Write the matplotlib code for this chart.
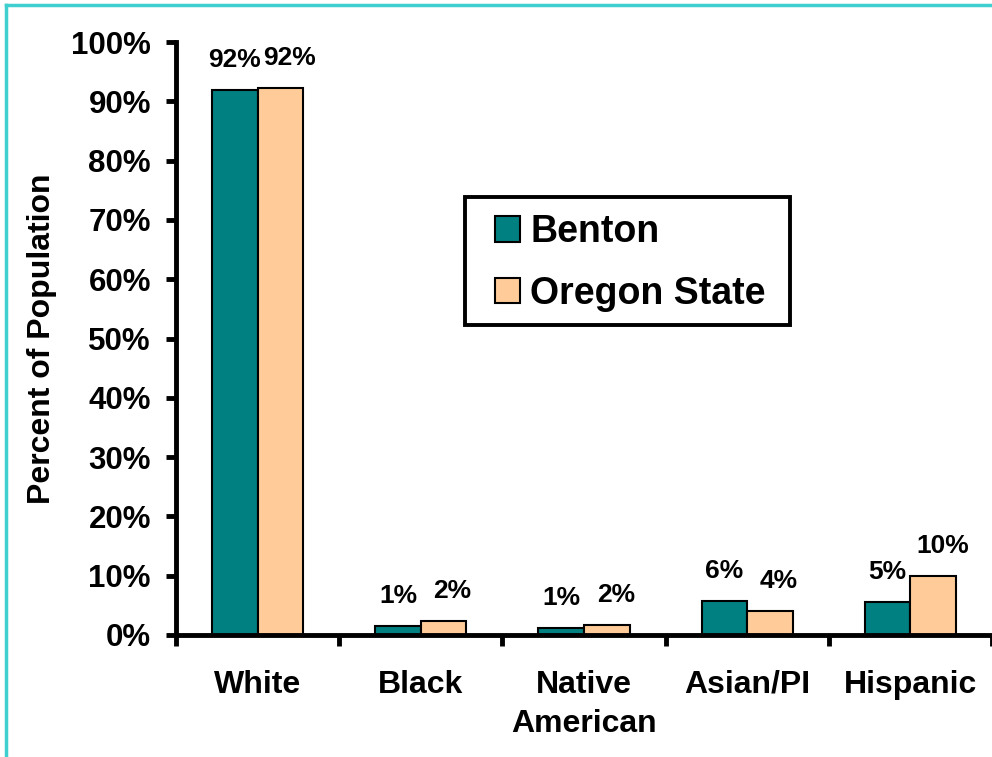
import matplotlib as mpl
mpl.use('Agg')
import matplotlib.pyplot as plt
import numpy as np
from matplotlib.lines import Line2D
from matplotlib.patches import Rectangle

plt.rcParams['font.family'] = ['Liberation Sans', 'DejaVu Sans']
plt.rcParams['font.weight'] = 'bold'

categories = ['White', 'Black', 'Native\nAmerican', 'Asian/PI', 'Hispanic']
benton = [91.9, 1.5, 1.2, 5.8, 5.6]
oregon = [92.2, 2.4, 1.7, 4.1, 10.0]
benton_labels = ['92%', '1%', '1%', '6%', '5%']
oregon_labels = ['92%', '2%', '2%', '4%', '10%']

fig = plt.figure(figsize=(9.92, 7.57), dpi=100)
ax = fig.add_axes([176/992, 1-635/757, 1-176/992, (635-42)/757])

x = np.arange(len(categories))
w = 0.28
b1 = ax.bar(x - w/2, benton, w, color='#008080', edgecolor='black', linewidth=1.5, label='Benton')
b2 = ax.bar(x + w/2, oregon, w, color='#FFCC99', edgecolor='black', linewidth=1.5, label='Oregon State')

# value labels above each bar (second series nudged right like the original)
for bars, labs, dx in ((b1, benton_labels, 0), (b2, oregon_labels, 6.5)):
    for r, lab in zip(bars, labs):
        ax.annotate(lab, (r.get_x() + r.get_width()/2, r.get_height()),
                    xytext=(dx, 13), textcoords='offset points',
                    ha='center', va='bottom', fontsize=19, fontweight='bold')

ax.set_xlim(-0.5, 4.5)
ax.set_ylim(0, 100)
ax.set_yticks(np.arange(0, 101, 10))
ax.set_yticklabels([f'{v}%' for v in range(0, 101, 10)], fontsize=22.5, fontweight='bold')
ax.set_xticks(x)
ax.set_xticklabels(categories, fontsize=23, fontweight='bold', linespacing=1.4)
ax.set_xticks(np.arange(-0.5, 5, 1), minor=True)
ax.tick_params(axis='x', which='major', length=0, pad=25)
ax.tick_params(axis='x', which='minor', length=8, width=3.5, direction='out')
ax.tick_params(axis='y', length=7, width=3.5, direction='out', pad=11)

for s in ('top', 'right'):
    ax.spines[s].set_visible(False)
ax.spines['left'].set_linewidth(3.5)
ax.spines['bottom'].set_linewidth(3.5)

ax.set_ylabel('Percent of Population', fontsize=23, fontweight='bold')
ax.yaxis.set_label_coords((57-176)/816, 0.5)

# legend box drawn separately so the padding can differ per side
box = Rectangle((465/992, 1-325/757), 325/992, 128/757, transform=fig.transFigure,
                facecolor='white', edgecolor='black', linewidth=2.8,
                clip_on=False, zorder=4)
ax.add_patch(box)
leg = ax.legend(loc='upper left', bbox_to_anchor=(495/992, 1-214/757),
                bbox_transform=fig.transFigure, fontsize=27, frameon=False,
                handlelength=0.67, handleheight=0.67,
                handletextpad=0.27, borderpad=0, labelspacing=0.68,
                borderaxespad=0)
for t in leg.get_texts():
    t.set_fontweight('bold')

# cyan frame on the slide edges
fig.add_artist(Line2D([6/992, 6/992], [0, 1-5/757], color='#3FCFCF', linewidth=2.5))
fig.add_artist(Line2D([6/992, 1], [1-5/757, 1-5/757], color='#3FCFCF', linewidth=2.5))

plt.savefig('out.png', dpi=100)
